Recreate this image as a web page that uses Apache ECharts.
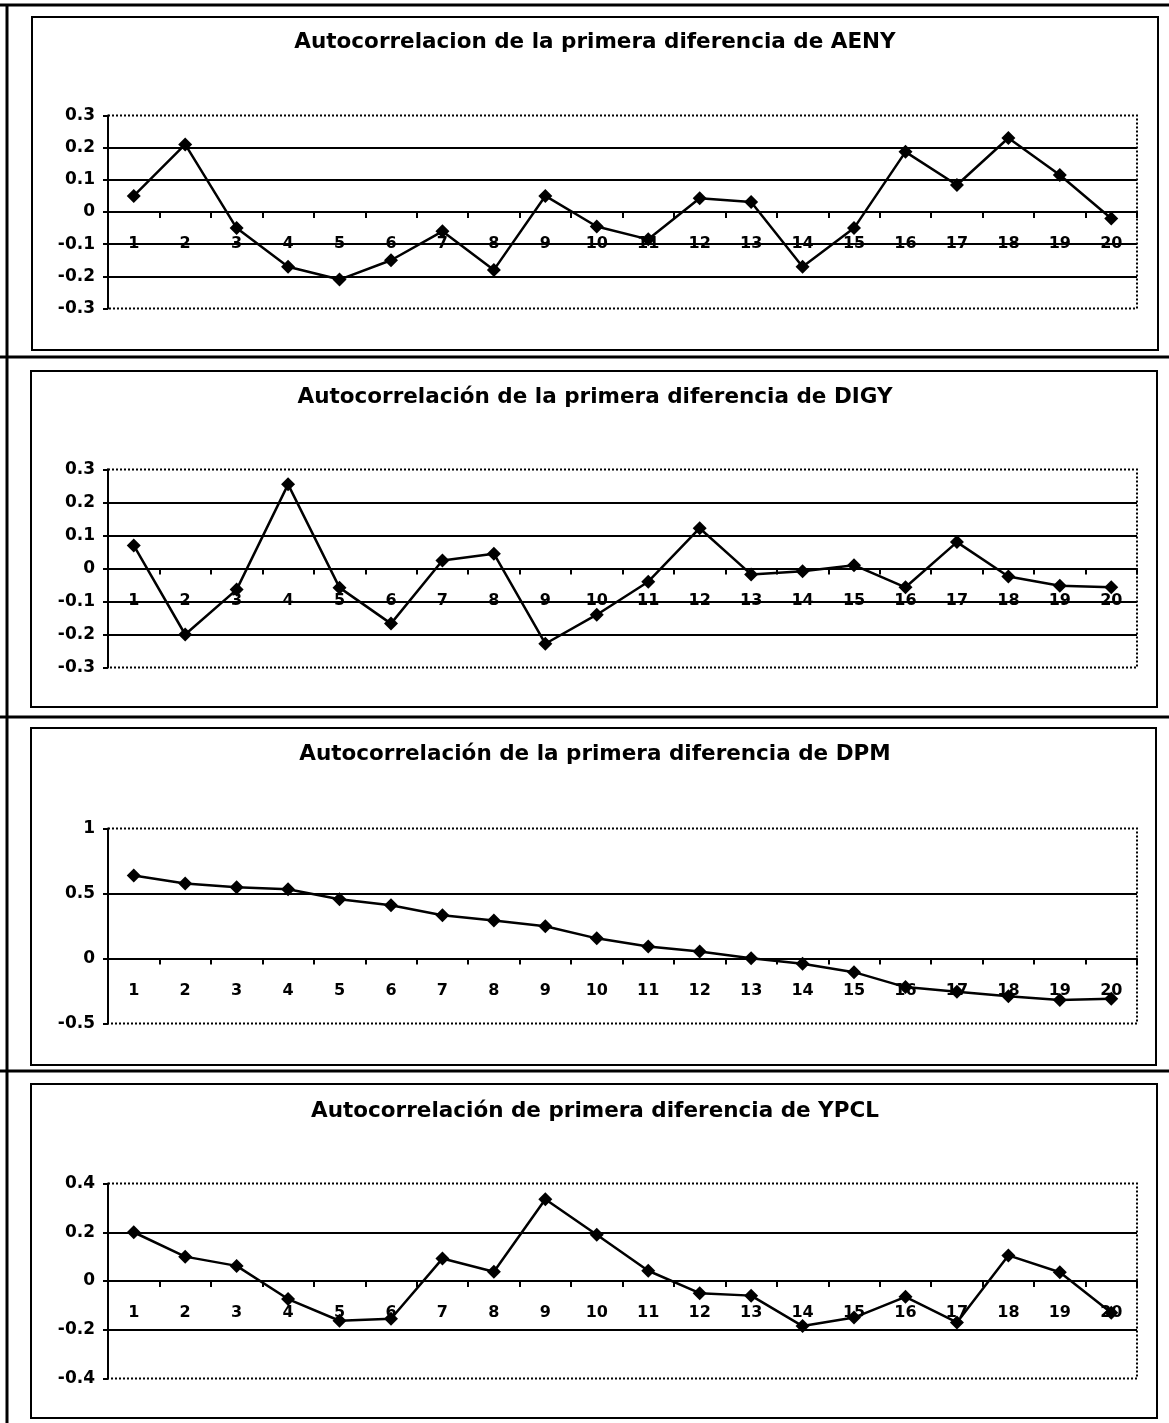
<!DOCTYPE html>
<html>
<head>
<meta charset="utf-8">
<script src="https://cdn.jsdelivr.net/npm/echarts@6/dist/echarts.min.js"></script>
<style>
html,body{margin:0;padding:0;background:#fff;}
#chart{width:1169px;height:1423px;}
</style>
</head>
<body>
<div id="chart"></div>
<script>
// ---- Data ----
const categories = ['1','2','3','4','5','6','7','8','9','10','11','12','13','14','15','16','17','18','19','20'];

const titles = [
  'Autocorrelacion de la primera diferencia de AENY',
  'Autocorrelación de la primera diferencia de DIGY',
  'Autocorrelación de la primera diferencia de DPM',
  'Autocorrelación de primera diferencia de YPCL'
];

const aenyValues = [0.05, 0.21, -0.05, -0.17, -0.21, -0.15, -0.06, -0.18, 0.05, -0.045, -0.085, 0.043, 0.031, -0.17, -0.05, 0.187, 0.084, 0.23, 0.115, -0.02];
const digyValues = [0.07, -0.20, -0.064, 0.255, -0.058, -0.167, 0.024, 0.045, -0.228, -0.14, -0.04, 0.122, -0.018, -0.008, 0.01, -0.057, 0.08, -0.024, -0.052, -0.057];
const dpmValues  = [0.638, 0.577, 0.548, 0.532, 0.455, 0.41, 0.333, 0.292, 0.248, 0.155, 0.093, 0.054, 0.002, -0.04, -0.105, -0.22, -0.255, -0.29, -0.32, -0.31];
const ypclValues = [0.20, 0.10, 0.062, -0.074, -0.163, -0.155, 0.092, 0.038, 0.335, 0.19, 0.042, -0.05, -0.06, -0.185, -0.15, -0.065, -0.17, 0.105, 0.036, -0.13];

const aenyTicks = [-0.3, -0.2, -0.1, 0, 0.1, 0.2, 0.3];
const digyTicks = [-0.3, -0.2, -0.1, 0, 0.1, 0.2, 0.3];
const dpmTicks  = [-0.5, 0, 0.5, 1];
const ypclTicks = [-0.4, -0.2, 0, 0.2, 0.4];

// ---- Layout (pixels) ----
const layout = [
  {top: 115.5, height: 193, titleY: 43,   box: [32, 17, 1126, 333]},
  {top: 469.5, height: 198, titleY: 398,  box: [31, 371, 1126, 336]},
  {top: 828.5, height: 195, titleY: 755,  box: [31, 728, 1125, 337]},
  {top: 1183.5, height: 195, titleY: 1112, box: [31, 1084, 1126, 334]}
];
const seriesData = [aenyValues, digyValues, dpmValues, ypclValues];
const tickSets = [aenyTicks, digyTicks, dpmTicks, ypclTicks];

const FONT = 'DejaVu Sans';
const LABEL_GAP = 24; // gap between zero line and category labels

const option = {
  backgroundColor: '#fff',
  animation: false,
  title: [], grid: [], xAxis: [], yAxis: [], series: [], graphic: []
};

layout.forEach((L, i) => {
  const ticks = tickSets[i];
  const min = ticks[0], max = ticks[ticks.length - 1];
  const interval = +(ticks[1] - ticks[0]).toFixed(6);
  // distance from zero line down to the grid bottom
  const zeroToBottom = L.height * (0 - min) / (max - min);
  option.title.push({
    text: titles[i], left: 595, top: L.titleY - 12, textAlign: 'center', padding: 0,
    textStyle: {fontFamily: FONT, fontWeight: 'bold', fontSize: 21.5, color: '#000'}
  });
  option.grid.push({
    left: 108, width: 1029, top: L.top, height: L.height,
    show: true, borderColor: '#000', borderWidth: 2, borderType: 'dotted', backgroundColor: 'transparent'
  });
  option.xAxis.push({
    type: 'category', gridIndex: i, data: categories, boundaryGap: true,
    axisLine: {onZero: true, lineStyle: {color: '#000', width: 2}},
    axisTick: {show: true, length: 6, lineStyle: {color: '#000', width: 2}},
    axisLabel: {interval: 0, margin: LABEL_GAP - zeroToBottom, fontFamily: FONT, fontWeight: 'bold', fontSize: 16, color: '#000'},
    splitLine: {show: false}
  });
  option.yAxis.push({
    type: 'value', gridIndex: i, min: min, max: max, interval: interval,
    axisLine: {show: true, lineStyle: {color: '#000', width: 2}},
    axisTick: {show: true, length: 5, lineStyle: {color: '#000', width: 2}},
    axisLabel: {margin: 13, fontFamily: FONT, fontWeight: 'bold', fontSize: 17, color: '#000'},
    splitLine: {show: true, showMinLine: false, showMaxLine: false, lineStyle: {color: '#000', width: 2}}
  });
  option.series.push({
    type: 'line', xAxisIndex: i, yAxisIndex: i, data: seriesData[i],
    symbol: 'diamond', symbolSize: 14, z: 5,
    lineStyle: {color: '#000', width: 2.5}, itemStyle: {color: '#000'}
  });
  option.graphic.push({
    type: 'rect', silent: true, z: 0,
    shape: {x: L.box[0], y: L.box[1], width: L.box[2], height: L.box[3]},
    style: {fill: 'none', stroke: '#000', lineWidth: 2}
  });
});

// outer frame lines
[5, 357, 717, 1071].forEach(y => {
  option.graphic.push({type: 'line', silent: true, shape: {x1: 0, y1: y, x2: 1169, y2: y}, style: {stroke: '#000', lineWidth: 3}});
});
option.graphic.push({type: 'line', silent: true, shape: {x1: 7, y1: 4, x2: 7, y2: 1423}, style: {stroke: '#000', lineWidth: 3}});

const chart = echarts.init(document.getElementById('chart'), null, {renderer: 'canvas'});
chart.setOption(option);
</script>
</body>
</html>
